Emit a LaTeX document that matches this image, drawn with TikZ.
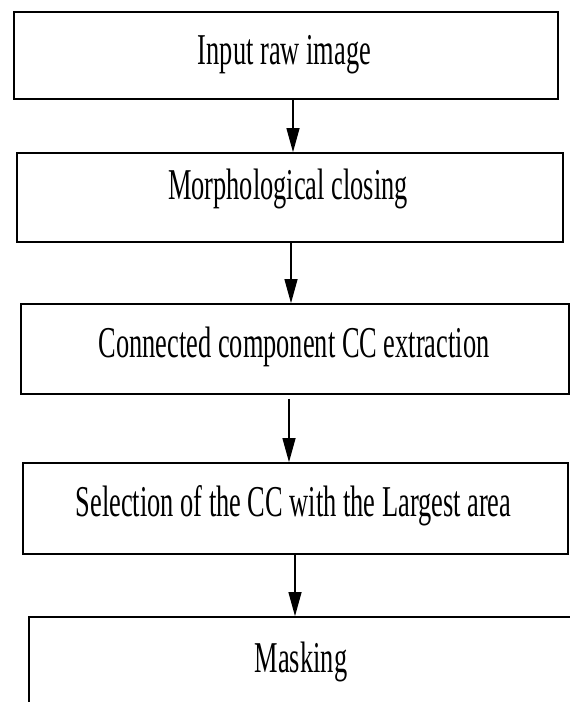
\documentclass[tikz,border=0pt]{standalone}
\usepackage{fontspec}
\setmainfont{Liberation Serif}
\newfontfamily\condfont[FakeStretch=0.60]{Liberation Serif}
\usetikzlibrary{arrows.meta}
\tikzset{
  box/.style={draw=black, line width=1.7pt, rectangle, inner sep=0pt, fill=none},
  lbl/.style={anchor=base, inner sep=0pt, font=\condfont\fontsize{44}{48}\selectfont},
  arr/.style={draw=black, line width=1.2pt, -{Triangle[length=24pt,width=13pt]}}
}
\begin{document}
\begin{tikzpicture}[x=1pt,y=1pt]
\useasboundingbox (0,0) rectangle (570,702);
\fill[white] (0,0) rectangle (570,702);
\clip (0,0) rectangle (570,702);
% boxes (y = 702 - pixel row)
\node[box, minimum width=544pt, minimum height=87pt] (b1) at (286,646.5) {};
\node[box, minimum width=546pt, minimum height=89pt] (b2) at (290,504.5) {};
\node[box, minimum width=548pt, minimum height=90pt] (b3) at (295,353) {};
\node[box, minimum width=545pt, minimum height=91pt] (b4) at (295.5,193.5) {};
\node[box, minimum width=546pt, minimum height=100pt] (b5) at (302,35) {};
% labels
\node[lbl] (t1) at (284.5,637) {Input raw image};
\node[lbl] (t2) at (288,502) {Morphological closing};
\node[lbl] (t3) at (294,344) {Connected component CC extraction};
\node[lbl] (t4) at (293.5,185) {Selection of the CC with the Largest area};
\node[lbl] (t5) at (301,30) {Masking};
% connectors
\draw[arr] ([xshift=7pt]b1.south) -- ([xshift=3pt]b2.north);
\draw[arr] ([xshift=1pt]b2.south) -- ([xshift=-4pt]b3.north);
\draw[arr] ([xshift=-6pt,yshift=-4pt]b3.south) -- ([xshift=-6.5pt]b4.north);
\draw[arr] ([xshift=-0.5pt]b4.south) -- ([xshift=-7pt]b5.north);
\end{tikzpicture}
\end{document}
